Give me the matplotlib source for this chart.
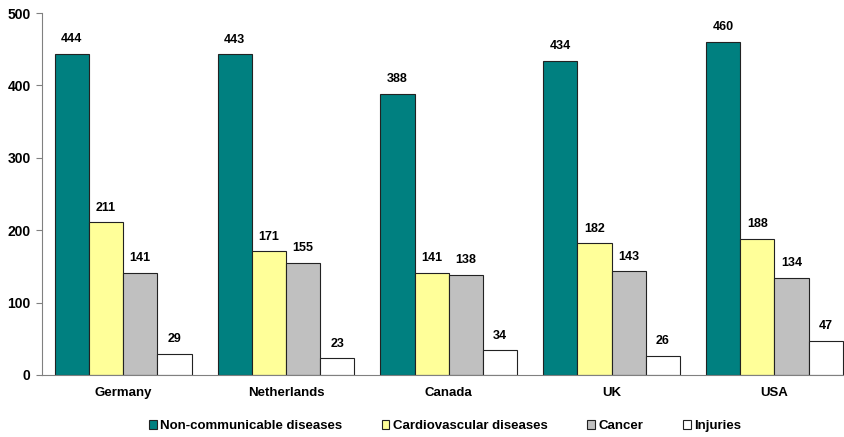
import numpy as np
import matplotlib.pyplot as plt
from matplotlib.patches import Patch

plt.rcParams['font.family'] = ['Liberation Sans', 'DejaVu Sans']

# Data
countries = ['Germany', 'Netherlands', 'Canada', 'UK', 'USA']
series = ['Non-communicable diseases', 'Cardiovascular diseases', 'Cancer', 'Injuries']
noncomm = [444, 443, 388, 434, 460]
cardio = [211, 171, 141, 182, 188]
cancer = [141, 155, 138, 143, 134]
injuries = [29, 23, 34, 26, 47]
colors = ['#008080', '#FFFF99', '#C0C0C0', '#FFFFFF']

fig = plt.figure(figsize=(8.44, 4.37), dpi=100)
ax = fig.add_axes([0.0495, 0.142, 0.9645, 0.828])

x = np.arange(len(countries))
w = 0.21
for i, (vals, c) in enumerate(zip([noncomm, cardio, cancer, injuries], colors)):
    pos = x + (i - 1.5) * w
    ax.bar(pos, vals, w, color=c, edgecolor='#222222', linewidth=0.8)
    for p, v in zip(pos, vals):
        ax.text(p, v + 12, str(v), ha='center', va='bottom', fontsize=9, fontweight='bold')

ax.set_xlim(-0.5, len(countries) - 0.5)
ax.set_ylim(0, 500)
ax.set_yticks([0, 100, 200, 300, 400, 500])
ax.set_xticks(x)
ax.set_xticklabels(countries, fontsize=9.5, fontweight='bold')
ax.tick_params(axis='x', length=0, pad=9)
ax.tick_params(axis='y', length=4, color='#808080', labelsize=10, pad=4)
for t in ax.get_yticklabels():
    t.set_fontweight('bold')
for s in ['top', 'right']:
    ax.spines[s].set_visible(False)
ax.spines['left'].set_color('#808080')
ax.spines['bottom'].set_color('#808080')

handles = [Patch(facecolor=c, edgecolor='#222222', linewidth=0.8) for c in colors]
leg = fig.legend(handles, series, loc='center', bbox_to_anchor=(0.527, 0.025), ncol=4,
                 frameon=False, handlelength=0.6, handleheight=0.6, handletextpad=0.25,
                 columnspacing=3.0, prop={'size': 9.5, 'weight': 'bold'})

fig.savefig('out.png', dpi=100)
